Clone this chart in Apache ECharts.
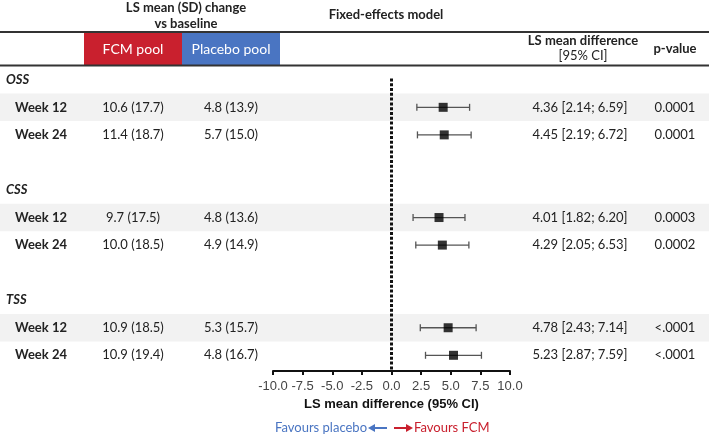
<!DOCTYPE html>
<html><head><meta charset="utf-8">
<script src="https://cdn.jsdelivr.net/npm/echarts@6/dist/echarts.min.js"></script>
<style>html,body{margin:0;padding:0;background:#fff}#c{width:709px;height:435px}</style>
</head><body><div id="c"></div>
<script>
const sections = ['OSS', 'CSS', 'TSS'];
const weeks = ['Week 12', 'Week 24'];
const fcmPool = ['10.6 (17.7)', '11.4 (18.7)', '9.7 (17.5)', '10.0 (18.5)', '10.9 (18.5)', '10.9 (19.4)'];
const placeboPool = ['4.8 (13.9)', '5.7 (15.0)', '4.8 (13.6)', '4.9 (14.9)', '5.3 (15.7)', '4.8 (16.7)'];
const lsDiff = [4.36, 4.45, 4.01, 4.29, 4.78, 5.23];
const ciLow = [2.14, 2.19, 1.82, 2.05, 2.43, 2.87];
const ciHigh = [6.59, 6.72, 6.20, 6.53, 7.14, 7.59];
const pValues = ['0.0001', '0.0001', '0.0003', '0.0002', '<.0001', '<.0001'];
const xMin = -10, xMax = 10, xStep = 2.5;

const FONT = 'Lato, "Open Sans", sans-serif';
const YMIN = -0.5, YMAX = 10.57;
// row slot for each data row: section s, week w -> 4s + 1 + w
const rowSlot = (i) => Math.floor(i / 2) * 4 + 1 + (i % 2);

const textItems = [];
sections.forEach((s, k) => textItems.push([6, k * 4, s, 'left', 'bold italic 13px ' + FONT]));
lsDiff.forEach((d, i) => {
  const y = rowSlot(i);
  textItems.push([41, y, weeks[i % 2], 'center', 'bold 13px ' + FONT]);
  textItems.push([133, y, fcmPool[i], 'center', '13px ' + FONT]);
  textItems.push([231, y, placeboPool[i], 'center', '13px ' + FONT]);
  textItems.push([580, y, d.toFixed(2) + ' [' + ciLow[i].toFixed(2) + '; ' + ciHigh[i].toFixed(2) + ']', 'center', '13px ' + FONT]);
  textItems.push([675, y, pValues[i], 'center', '13px ' + FONT]);
});
const shadeRows = lsDiff.map((d, i) => rowSlot(i)).filter((s, i) => i % 2 === 0);

const chart = echarts.init(document.getElementById('c'), null, {renderer: 'canvas'});
chart.setOption({
  animation: false,
  grid: [
    {left: 273, width: 237, top: 66, height: 305},
    {left: 0, width: 709, top: 66, height: 305}
  ],
  xAxis: [
    {gridIndex: 0, type: 'value', min: xMin, max: xMax, interval: xStep,
     axisLine: {show: true, onZero: false, lineStyle: {color: '#111', width: 2}},
     axisTick: {show: true, length: 4, lineStyle: {color: '#111', width: 2}},
     splitLine: {show: false},
     axisLabel: {color: '#444', fontFamily: 'Liberation Sans, Arial, sans-serif', fontSize: 13, margin: 9,
       formatter: v => v.toFixed(1)},
     name: 'LS mean difference (95% CI)', nameLocation: 'middle', nameGap: 23,
     nameTextStyle: {fontFamily: 'Liberation Sans, Arial, sans-serif', fontWeight: 'bold', fontSize: 13, color: '#111'}},
    {gridIndex: 1, type: 'value', min: 0, max: 709, show: false}
  ],
  yAxis: [
    {gridIndex: 0, type: 'value', inverse: true, min: YMIN, max: YMAX, show: false},
    {gridIndex: 1, type: 'value', inverse: true, min: YMIN, max: YMAX, show: false}
  ],
  graphic: [
    {type: 'text', style: {text: 'LS mean (SD) change', x: 186, y: 8, textAlign: 'center', textVerticalAlign: 'middle', font: 'bold 13px ' + FONT, fill: '#222'}},
    {type: 'text', style: {text: 'vs baseline', x: 186, y: 24, textAlign: 'center', textVerticalAlign: 'middle', font: 'bold 13px ' + FONT, fill: '#222'}},
    {type: 'text', style: {text: 'Fixed-effects model', x: 386, y: 15, textAlign: 'center', textVerticalAlign: 'middle', font: 'bold 13px ' + FONT, fill: '#222'}},
    {type: 'rect', shape: {x: 84, y: 33, width: 98, height: 32}, style: {fill: '#c9202e'}},
    {type: 'rect', shape: {x: 182, y: 33, width: 98, height: 32}, style: {fill: '#4a75c2'}},
    {type: 'text', style: {text: 'FCM pool', x: 133, y: 49, textAlign: 'center', textVerticalAlign: 'middle', font: '14px ' + FONT, fill: '#fff'}},
    {type: 'text', style: {text: 'Placebo pool', x: 231, y: 49, textAlign: 'center', textVerticalAlign: 'middle', font: '14px ' + FONT, fill: '#fff'}},
    {type: 'text', style: {text: 'LS mean difference', x: 583, y: 41, textAlign: 'center', textVerticalAlign: 'middle', font: 'bold 13px ' + FONT, fill: '#222'}},
    {type: 'text', style: {text: '[95% CI]', x: 583, y: 56, textAlign: 'center', textVerticalAlign: 'middle', font: '13px ' + FONT, fill: '#222'}},
    {type: 'text', style: {text: 'p-value', x: 675, y: 49, textAlign: 'center', textVerticalAlign: 'middle', font: 'bold 13px ' + FONT, fill: '#222'}},
    {type: 'line', shape: {x1: 0, y1: 32, x2: 709, y2: 32}, style: {stroke: '#333', lineWidth: 2}},
    {type: 'line', shape: {x1: 0, y1: 65.5, x2: 709, y2: 65.5}, style: {stroke: '#333', lineWidth: 2}},
    {type: 'text', style: {text: 'Favours placebo', x: 367, y: 428, textAlign: 'right', textVerticalAlign: 'middle', font: '13px ' + FONT, fill: '#4a75c2'}},
    {type: 'line', shape: {x1: 370, y1: 428, x2: 387, y2: 428}, style: {stroke: '#4a75c2', lineWidth: 2}},
    {type: 'polygon', shape: {points: [[368, 428], [375, 424], [375, 432]]}, style: {fill: '#4a75c2'}},
    {type: 'line', shape: {x1: 394, y1: 428, x2: 410, y2: 428}, style: {stroke: '#c9202e', lineWidth: 2}},
    {type: 'polygon', shape: {points: [[413, 428], [406, 424], [406, 432]]}, style: {fill: '#c9202e'}},
    {type: 'text', style: {text: 'Favours FCM', x: 414, y: 428, textAlign: 'left', textVerticalAlign: 'middle', font: '13px ' + FONT, fill: '#c9202e'}}
  ],
  series: [
    {type: 'custom', xAxisIndex: 1, yAxisIndex: 1, z: 1, silent: true,
     data: shadeRows,
     renderItem: (params, api) => {
       const s = api.value(0);
       const p0 = api.coord([0, s - 0.5]);
       const p1 = api.coord([709, s + 0.5]);
       return {type: 'rect', shape: {x: p0[0], y: p0[1], width: p1[0] - p0[0], height: p1[1] - p0[1]}, style: {fill: '#f2f2f2'}};
     }},
    {type: 'custom', xAxisIndex: 1, yAxisIndex: 1, z: 3, silent: true,
     data: textItems,
     renderItem: (params, api) => {
       const it = textItems[params.dataIndex];
       const p = api.coord([it[0], it[1]]);
       return {type: 'text', style: {text: it[2], x: p[0], y: p[1], textAlign: it[3], textVerticalAlign: 'middle', font: it[4], fill: '#222'}};
     }},
    {type: 'line', xAxisIndex: 0, yAxisIndex: 0, z: 3, silent: true, symbol: 'none',
     data: [[0, -0.05], [0, YMAX]],
     lineStyle: {color: '#111', width: 3, type: [3, 1.8]}},
    {type: 'custom', xAxisIndex: 0, yAxisIndex: 0, z: 4, silent: true,
     data: lsDiff.map((d, i) => [ciLow[i], ciHigh[i], rowSlot(i)]),
     renderItem: (params, api) => {
       const a = api.coord([api.value(0), api.value(2)]);
       const b = api.coord([api.value(1), api.value(2)]);
       const st = {stroke: '#555', lineWidth: 1.3};
       return {type: 'group', children: [
         {type: 'line', shape: {x1: a[0], y1: a[1], x2: b[0], y2: b[1]}, style: st},
         {type: 'line', shape: {x1: a[0], y1: a[1] - 3.5, x2: a[0], y2: a[1] + 3.5}, style: st},
         {type: 'line', shape: {x1: b[0], y1: b[1] - 3.5, x2: b[0], y2: b[1] + 3.5}, style: st}
       ]};
     }},
    {type: 'scatter', xAxisIndex: 0, yAxisIndex: 0, z: 5, silent: true,
     symbol: 'rect', symbolSize: 9, itemStyle: {color: '#000'},
     data: lsDiff.map((d, i) => [d, rowSlot(i)])}
  ]
});
</script></body></html>
